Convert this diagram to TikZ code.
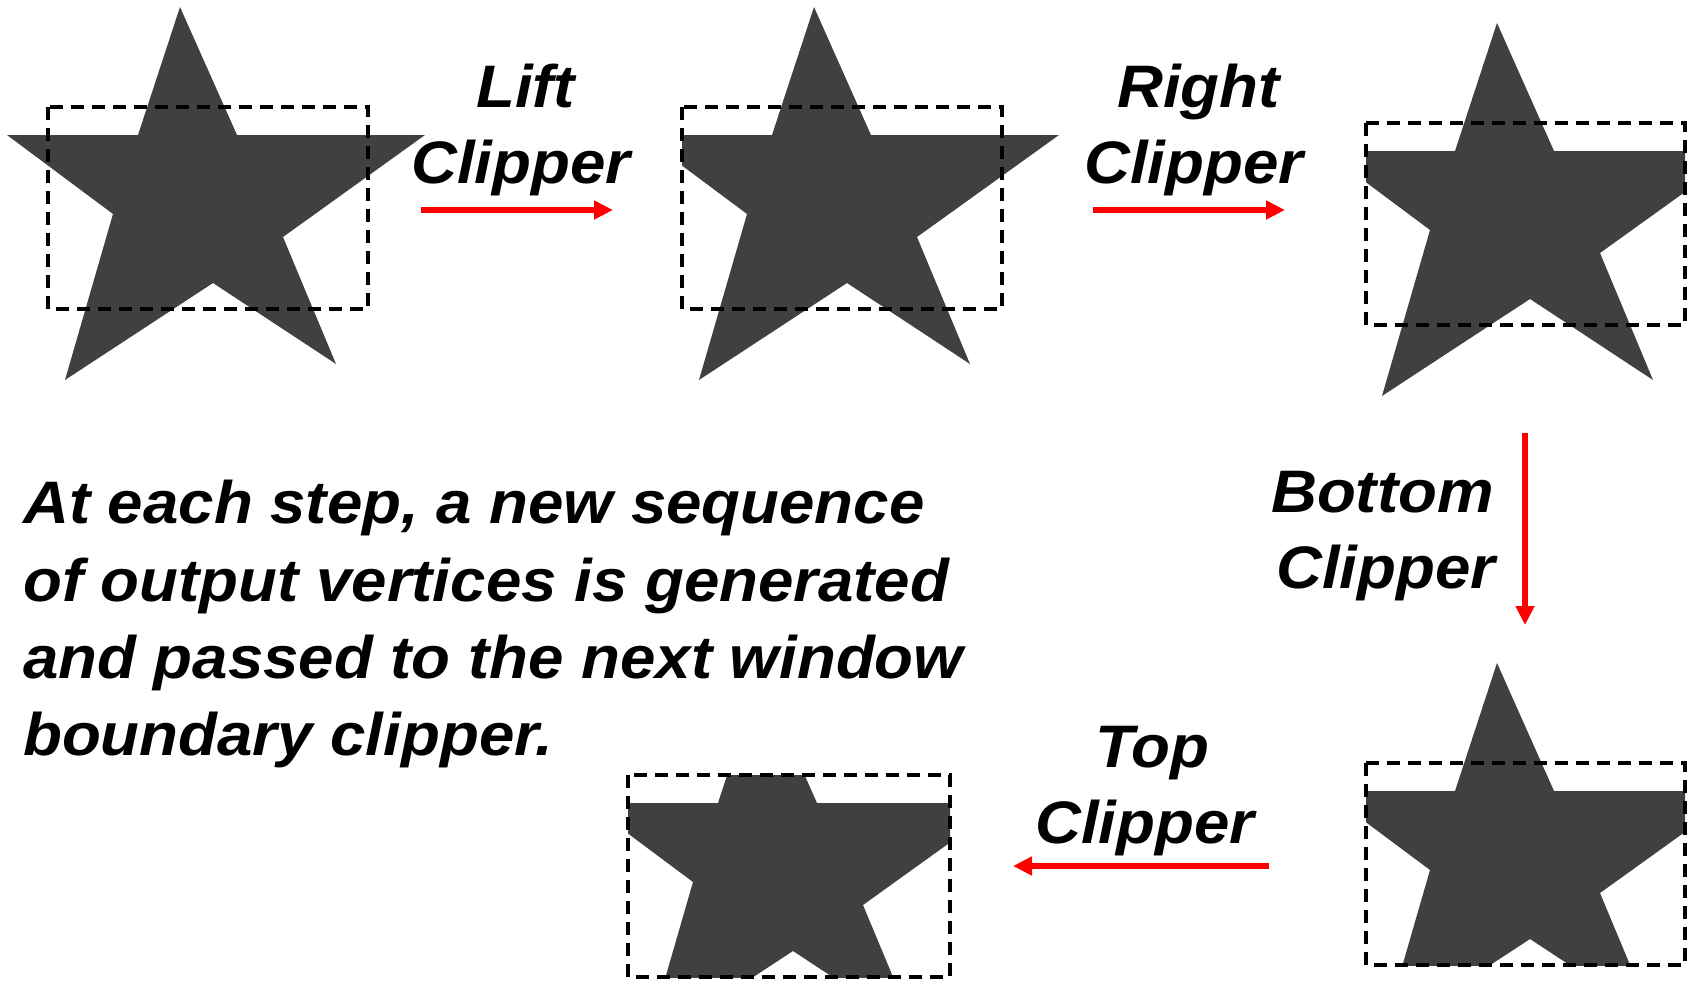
\documentclass[tikz,border=0pt]{standalone}
\usepackage{fontspec}
\setmainfont[FakeStretch=1.06]{Liberation Sans}
\usetikzlibrary{arrows.meta}
\definecolor{stargray}{HTML}{404040}
\definecolor{arrowred}{HTML}{FF0000}

% five-pointed star, top tip at the given point
\newcommand{\polystar}[1]{%
  \fill[stargray,shift={#1}] (0,0) -- (57,128) -- (245,128) -- (103,230) -- (156,357)
    -- (33,276) -- (-115,373) -- (-67,207) -- (-173,128) -- (-42,128) -- cycle;}

\tikzset{
  window/.style={draw=black,line width=3.5pt,dash pattern=on 13pt off 8pt},
  flow/.style={draw=arrowred,line width=5.5pt,-{Triangle[length=19pt,width=18pt]}},
  lbl/.style={inner sep=0pt,anchor=base west,font=\fontsize{60}{77}\selectfont\bfseries\itshape},
}

\begin{document}
\begin{tikzpicture}[x=1pt,y=-1pt]
\useasboundingbox (0,0) rectangle (1694,982);

% stage 1: original polygon
\polystar{(180,7)}
\draw[window] (48,107) rectangle (368,309);

% stage 2: after the left boundary
\begin{scope}
  \clip (682,-20) rectangle (1150,420);
  \polystar{(814,7)}
\end{scope}
\draw[window] (682,107) rectangle (1002,309);

% stage 3: after the right boundary
\begin{scope}
  \clip (1366,-20) rectangle (1685,420);
  \polystar{(1497,23)}
\end{scope}
\draw[window] (1366,123) rectangle (1685,325);

% stage 4: after the bottom boundary
\begin{scope}
  \clip (1366,640) rectangle (1685,965);
  \polystar{(1497,663)}
\end{scope}
\draw[window] (1366,763) rectangle (1685,965);

% stage 5: after the top boundary
\begin{scope}
  \clip (628,775) rectangle (950,977);
  \polystar{(760,675)}
\end{scope}
\draw[window] (628,775) rectangle (950,977);

% stage labels
\node[lbl] (lift1) at (476,107) {Lift};
\node[lbl] (lift2) at (411,183) {Clipper};
\node[lbl] (right1) at (1117,107) {Right};
\node[lbl] (right2) at (1084,183) {Clipper};
\node[lbl] (bottom1) at (1271,512) {Bottom};
\node[lbl] (bottom2) at (1276,588) {Clipper};
\node[lbl] (top1) at (1095,767) {Top};
\node[lbl] (top2) at (1035,843) {Clipper};

% explanation, one line per node
\node[lbl] (note1) at (23,523) {At each step, a new sequence};
\node[lbl] (note2) at (23,601) {of output vertices is generated};
\node[lbl] (note3) at (23,678) {and passed to the next window};
\node[lbl] (note4) at (23,755) {boundary clipper.};

% arrows between stages
\coordinate (a1s) at (421,210);  \coordinate (a1e) at (613,210);
\coordinate (a2s) at (1093,210); \coordinate (a2e) at (1285,210);
\coordinate (a3s) at (1525,433); \coordinate (a3e) at (1525,625);
\coordinate (a4s) at (1269,866); \coordinate (a4e) at (1013,866);
\draw[flow] (a1s) -- (a1e);
\draw[flow] (a2s) -- (a2e);
\draw[flow] (a3s) -- (a3e);
\draw[flow] (a4s) -- (a4e);
\end{tikzpicture}
\end{document}
